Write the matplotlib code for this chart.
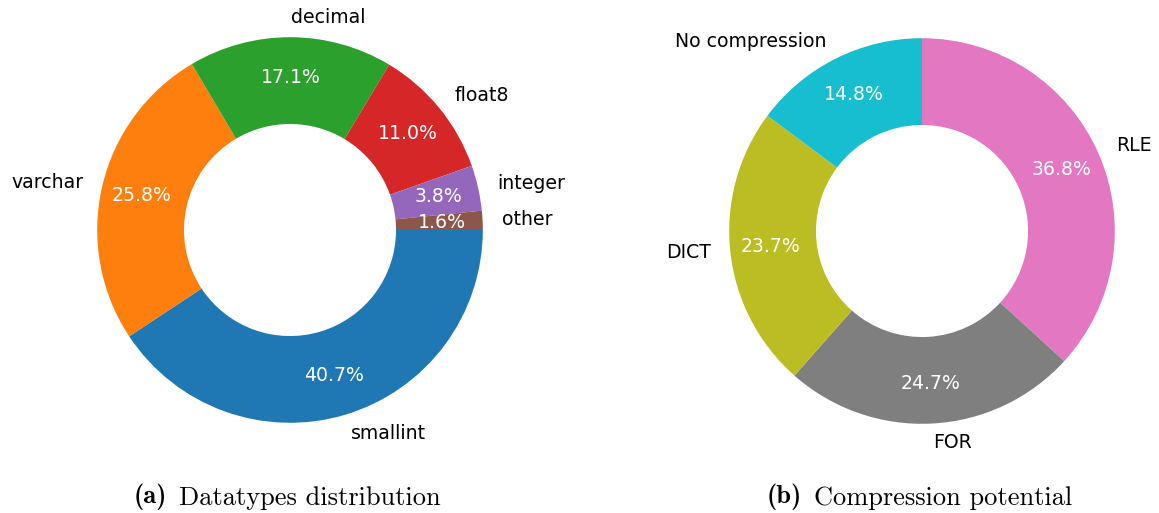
import matplotlib
matplotlib.use("Agg")
import matplotlib.pyplot as plt

# -----------------------------
# DATA
# -----------------------------

type_labels = ["smallint", "varchar", "decimal", "float8", "integer", "other"]
type_share = [40.7, 25.8, 17.1, 11.0, 3.8, 1.6]
type_colors = ["tab:blue", "tab:orange", "tab:green", "tab:red", "tab:purple", "tab:brown"]

comp_labels = ["RLE", "FOR", "DICT", "No compression"]
comp_share = [36.8, 24.7, 23.7, 14.8]
comp_colors = ["tab:pink", "tab:gray", "tab:olive", "tab:cyan"]

captions = [("(a)", "Datatypes distribution"), ("(b)", "Compression potential")]

W, H = 1159, 513
fig = plt.figure(figsize=(W / 100, H / 100), dpi=100)

# axes of 482 px square, centred on each donut
size = 482
ax1 = fig.add_axes([49 / W, 42 / H, size / W, size / H])
ax2 = fig.add_axes([681 / W, 41 / H, size / W, size / H])

wedge_style = dict(width=0.45, edgecolor="none")
label_style = dict(fontsize=13.6)
pct_style = dict(color="white", fontsize=13.6)

_, _, pcts = ax1.pie(type_share, labels=type_labels, colors=type_colors,
                     autopct="%1.1f%%", pctdistance=0.79, startangle=0,
                     counterclock=False, wedgeprops=wedge_style,
                     textprops=label_style)
for t in pcts:
    t.set(**pct_style)
ax1.set_aspect("equal")

_, _, pcts = ax2.pie(comp_share, labels=comp_labels, colors=comp_colors,
                     autopct="%1.1f%%", pctdistance=0.79, startangle=90,
                     counterclock=False, wedgeprops=wedge_style,
                     textprops=label_style)
for t in pcts:
    t.set(**pct_style)
ax2.set_aspect("equal")

# captions: bold tag + roman text, LaTeX-like fonts
for (tag, text), x0 in zip(captions, [134, 767]):
    t1 = fig.text(x0 / W, 10 / H, tag, family="cmb10", fontsize=19, va="baseline")
    ax1.annotate(text, xy=(1, 0), xycoords=t1, xytext=(8.5, 0),
                 textcoords="offset points", family="cmr10", fontsize=19,
                 va="bottom", annotation_clip=False)

fig.savefig("out.png", dpi=100)
